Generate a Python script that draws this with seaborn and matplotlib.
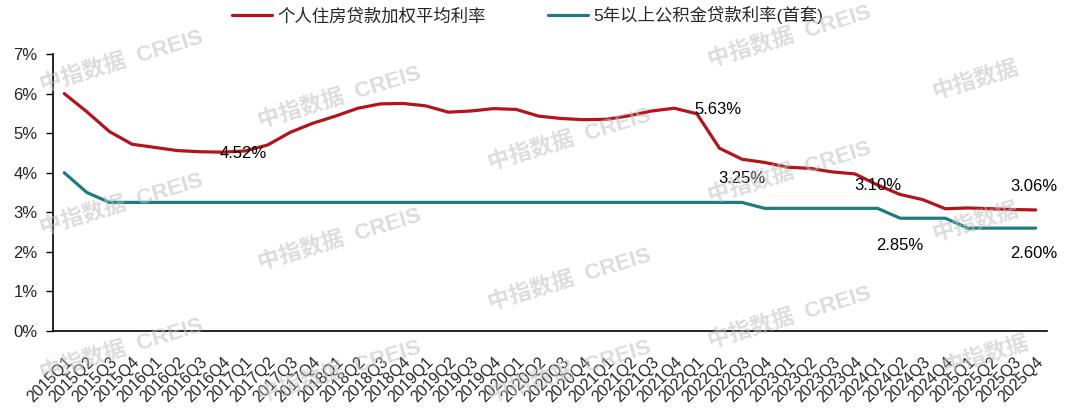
import pandas as pd
import seaborn as sns
import matplotlib.pyplot as plt

quarters = [f"{y}Q{q}" for y in range(2015, 2026) for q in range(1, 5)]

mortgage_rate = [6.00, 5.54, 5.04, 4.72, 4.64, 4.56, 4.53, 4.52, 4.55, 4.70,
                 5.02, 5.25, 5.43, 5.63, 5.74, 5.75, 5.69, 5.53, 5.56, 5.62,
                 5.60, 5.43, 5.37, 5.34, 5.35, 5.44, 5.56, 5.63, 5.49, 4.62,
                 4.34, 4.26, 4.14, 4.11, 4.02, 3.97, 3.69, 3.45, 3.32, 3.09,
                 3.11, 3.09, 3.07, 3.06]

fund_rate = [4.00, 3.50, 3.25, 3.25, 3.25, 3.25, 3.25, 3.25, 3.25, 3.25,
             3.25, 3.25, 3.25, 3.25, 3.25, 3.25, 3.25, 3.25, 3.25, 3.25,
             3.25, 3.25, 3.25, 3.25, 3.25, 3.25, 3.25, 3.25, 3.25, 3.25,
             3.25, 3.10, 3.10, 3.10, 3.10, 3.10, 3.10, 2.85, 2.85, 2.85,
             2.60, 2.60, 2.60, 2.60]

mortgage_name = "个人住房贷款加权平均利率"
fund_name = "5年以上公积金贷款利率(首套)"

# (series, quarter index, pixel offset of the label)
labels = [
    ("mortgage", 7, (21, -1)),
    ("mortgage", 27, (44, -1)),
    ("fund", 30, (0, 24)),
    ("fund", 36, (0, 23)),
    ("fund", 37, (0, -27)),
    ("mortgage", 43, (-2, 23)),
    ("fund", 43, (-2, -25)),
]

RED = "#B3141B"
TEAL = "#1E7B7E"

sns.set_style("white")
plt.rcParams['font.family'] = ['Liberation Sans', 'Noto Sans CJK SC']

df = pd.DataFrame({
    "quarter": quarters * 2,
    "rate": mortgage_rate + fund_rate,
    "series": [mortgage_name] * len(quarters) + [fund_name] * len(quarters),
})

fig = plt.figure(figsize=(10.66, 4.11), dpi=100)
ax = fig.add_axes([0.0497, 0.1946, 0.9325, 0.674])

sns.lineplot(data=df, x="quarter", y="rate", hue="series",
             palette=[RED, TEAL], linewidth=2.3, ax=ax, legend=False)

ax.set_xlim(-0.5, len(quarters) - 0.5)
ax.set_ylim(0, 7)
ax.set_yticks(range(0, 8))
ax.set_yticklabels([f"{v}%" for v in range(0, 8)], fontsize=12)
ax.set_xticks(range(len(quarters)))
ax.set_xticklabels(quarters, rotation=45, ha="right", rotation_mode="anchor",
                   fontsize=11.5)
ax.tick_params(axis="x", length=0, pad=17)
ax.tick_params(axis="y", length=5, width=1, color="black", left=True, pad=6)
ax.set_xlabel("")
ax.set_ylabel("")
for s in ["top", "right"]:
    ax.spines[s].set_visible(False)
for s in ["left", "bottom"]:
    ax.spines[s].set_color("black")
    ax.spines[s].set_linewidth(1.2)

series = {"mortgage": mortgage_rate, "fund": fund_rate}
for name, i, off in labels:
    v = series[name][i]
    ax.annotate(f"{v:.2f}%", (i, v), xytext=off, textcoords="offset pixels",
                ha="center", va="center", fontsize=12, color="black")

# legend
handles = [plt.Line2D([], [], color=RED, lw=2.3),
           plt.Line2D([], [], color=TEAL, lw=2.3)]
fig.legend(handles, [mortgage_name, fund_name], loc="center",
           bbox_to_anchor=(0.495, 0.963), ncol=2, frameon=False,
           fontsize=12.5, handlelength=2.3, handletextpad=0.3,
           columnspacing=3.6)

# watermarks
marks = [
    (122, 62, True), (340, 98, True), (570, 140, True), (790, 37, True), (975, 80, False),
    (122, 205, True), (340, 240, True), (570, 280, True), (790, 173, True), (975, 222, False),
    (122, 350, True), (340, 372, True), (570, 372, True), (790, 318, True), (985, 355, False),
]
for x, y, creis in marks:
    fig.text(x / 1066, 1 - y / 411, "中指数据  CREIS" if creis else "中指数据",
             rotation=17, ha="center", va="center", fontsize=16,
             fontweight="bold", color="#c0c0c0", alpha=0.55, zorder=10)

plt.savefig("out.png", dpi=100)
plt.close()
